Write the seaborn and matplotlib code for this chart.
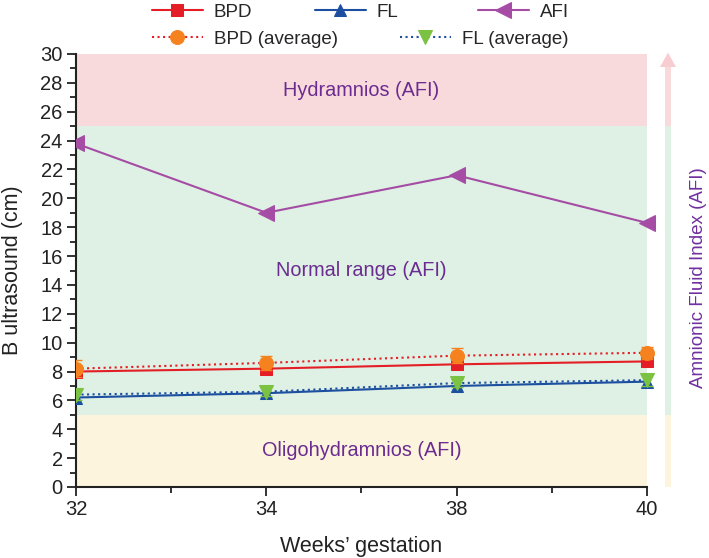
import numpy as np
import pandas as pd
import matplotlib
matplotlib.use("Agg")
import matplotlib.pyplot as plt
import matplotlib.transforms as mtransforms
from matplotlib.patches import Rectangle, Polygon
import seaborn as sns

# Data
weeks = ["32", "34", "38", "40"]
bpd = [8.0, 8.2, 8.5, 8.7]
bpd_avg = [8.2, 8.6, 9.1, 9.3]
bpd_err = [0.6, 0.5, 0.5, 0.4]
fl = [6.2, 6.5, 7.0, 7.3]
fl_avg = [6.4, 6.6, 7.2, 7.4]
fl_err = [0.4, 0.3, 0.3, 0.4]
afi = [23.8, 19.0, 21.6, 18.3]

# AFI zones (cm)
zone_edges = [0, 5, 25, 30]
zone_names = ["Oligohydramnios (AFI)", "Normal range (AFI)", "Hydramnios (AFI)"]
zone_colors = ["#fdf4dd", "#dff1e4", "#f9dadc"]

sns.set_style("ticks")
plt.rcParams["font.family"] = ["Liberation Sans", "DejaVu Sans"]
plt.rcParams["font.size"] = 13

pos = np.arange(len(weeks))
df = pd.DataFrame({"pos": pos, "BPD": bpd, "BPD (average)": bpd_avg,
                   "FL": fl, "FL (average)": fl_avg, "AFI": afi})

W, H = 709, 558
fig = plt.figure(figsize=(W / 100, H / 100), dpi=100)
ax = fig.add_axes([76 / W, 1 - 487 / H, (647 - 76) / W, (487 - 54) / H])

# background bands
for lo, hi, c in zip(zone_edges[:-1], zone_edges[1:], zone_colors):
    ax.axhspan(lo, hi, color=c, lw=0, zorder=0)
for lo, hi, name in zip(zone_edges[:-1], zone_edges[1:], zone_names):
    ax.text(1.5, (lo + hi) / 2, name, color="#6b2c91", fontsize=14.3,
            ha="center", va="center", zorder=1)

red, blue, purple = "#e41e26", "#1c4fa0", "#a54ca5"
orange, green = "#f5821f", "#7cc242"

sns.lineplot(data=df, x="pos", y="BPD", ax=ax, color=red, marker="s",
             markersize=8, markeredgecolor=red, lw=1.5, label="BPD", zorder=3)
sns.lineplot(data=df, x="pos", y="BPD (average)", ax=ax, color=red, ls=":",
             lw=1.5, marker="o", markersize=10, markerfacecolor=orange,
             markeredgecolor=orange, label="BPD (average)", zorder=4)
sns.lineplot(data=df, x="pos", y="FL", ax=ax, color=blue, marker="^",
             markersize=9, markeredgecolor=blue, lw=1.5, label="FL", zorder=3)
sns.lineplot(data=df, x="pos", y="FL (average)", ax=ax, color=blue, ls=":",
             lw=1.5, marker="v", markersize=10, markerfacecolor=green,
             markeredgecolor=green, label="FL (average)", zorder=4)
sns.lineplot(data=df, x="pos", y="AFI", ax=ax, color=purple, marker="<",
             markersize=11, markeredgecolor=purple, lw=1.5, label="AFI", zorder=3)

ax.errorbar(pos, bpd_avg, yerr=bpd_err, fmt="none", ecolor=orange,
            elinewidth=1.5, capsize=4, zorder=4)
ax.errorbar(pos, fl_avg, yerr=fl_err, fmt="none", ecolor=green,
            elinewidth=1.5, capsize=4, zorder=4)

# clip marks at the left spine only (right side is left open, as in the original)
cb = mtransforms.TransformedBbox(mtransforms.Bbox([[0, -0.05], [1.03, 1.05]]),
                                 ax.transAxes)
for art in ax.lines + list(ax.collections):
    art.set_clip_box(cb)

ax.set_xlim(pos[0], pos[-1])
ax.set_ylim(0, 30)
ax.set_xticks(pos)
ax.set_xticklabels(weeks)
ax.set_xticks(pos[:-1] + 0.5, minor=True)
ax.set_yticks(np.arange(0, 31, 2))
ax.set_yticks(np.arange(0, 31, 1), minor=True)
ax.tick_params(which="major", direction="out", length=6.5, width=1.3,
               labelsize=14.5, pad=3, colors="#222222", labelcolor="#222222")
ax.tick_params(which="minor", direction="out", length=4, width=1.3,
               colors="#222222")
sns.despine(ax=ax)
for s in ["left", "bottom"]:
    ax.spines[s].set_linewidth(1.5)
    ax.spines[s].set_color("#222222")
ax.set_xlabel("Weeks\u2019 gestation", fontsize=15.5, labelpad=12, color="#222222")
ax.set_ylabel("B ultrasound (cm)", fontsize=15.5, color="#222222")
ax.yaxis.set_label_coords((23 - 76) / 571, 0.5)

# legend entries laid out as in the original (two free rows above the plot)
handles, labels = ax.get_legend_handles_labels()
hmap = dict(zip(labels, handles))
leg_slots = [("BPD", 152, 12), ("FL", 315, 12), ("AFI", 478, 12),
             ("BPD (average)", 152, 39), ("FL (average)", 400, 39)]
for name, px, py in leg_slots:
    fig.legend([hmap[name]], [name], loc="center left",
               bbox_to_anchor=(px / W, 1 - py / H), frameon=False,
               fontsize=13.5, handlelength=2.7, handletextpad=0.6,
               borderpad=0, borderaxespad=0)
ax.get_legend().remove()

# AFI arrow on the right
trans = mtransforms.blended_transform_factory(ax.transAxes, ax.transData)
cx = (668 - 76) / 571
hw = 3 / 571
head_hw = 8 / 571
shaft = [(0, 5, "#fdf4dd"), (5, 25, "#dff1e4"), (25, 29.1, "#f9dadc")]
for lo, hi, c in shaft:
    ax.add_patch(Rectangle((cx - hw, lo), 2 * hw, hi - lo, transform=trans,
                           color=c, lw=0, clip_on=False))
ax.add_patch(Polygon([(cx - head_hw, 29.1), (cx + head_hw, 29.1), (cx, 30.1)],
                     closed=True, transform=trans, color="#f8cdd1", lw=0,
                     clip_on=False))
ax.text((699 - 76) / 571, 14.5, "Amnionic Fluid Index (AFI)", transform=trans,
        rotation=90, ha="center", va="center", color="#7030a0", fontsize=13.5)

fig.savefig("out.png", dpi=100)
